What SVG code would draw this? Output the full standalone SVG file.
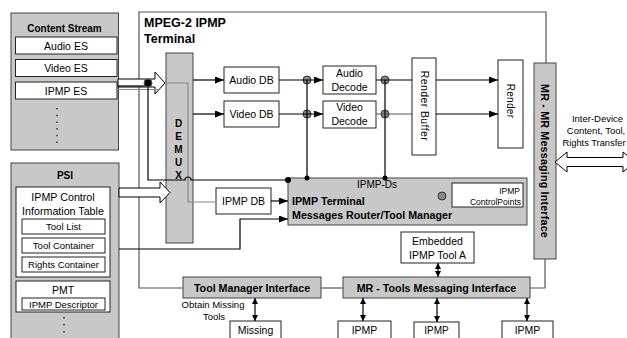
<svg xmlns="http://www.w3.org/2000/svg" width="627" height="338" viewBox="0 0 627 338">
<style>
text{font-family:"Liberation Sans",Arial,sans-serif;fill:#000}
.t{font-size:10.5px;text-anchor:middle}
.s{font-size:9.5px;text-anchor:middle}
.b{font-size:10.7px;font-weight:bold}
.bc{font-size:10.7px;font-weight:bold;text-anchor:middle}
.g{fill:#c8c8c8;stroke:#444;stroke-width:1}
.w{fill:#fff;stroke:#222;stroke-width:1}
.ln{fill:none;stroke:#000;stroke-width:1.2}
.gl{fill:none;stroke:#888;stroke-width:1.2}
.dl{fill:none;stroke:#555;stroke-width:1.2}
.j{fill:#888;stroke:#333;stroke-width:1}
</style>
<defs>
<marker id="ah" markerUnits="userSpaceOnUse" markerWidth="9" markerHeight="7" refX="9" refY="3.5" orient="auto-start-reverse"><path d="M0,0 L9,3.5 L0,7 z" fill="#000"/></marker>
<marker id="sh" markerUnits="userSpaceOnUse" markerWidth="6" markerHeight="6" refX="6" refY="3" orient="auto-start-reverse"><path d="M0,0 L6,3 L0,6 z" fill="#000"/></marker>
</defs>

<g id="terminal-outline">
<path class="dl" d="M183,288 H139 V12 H546 V63"/>
<text class="b" x="144" y="27" style="font-size:12.5px">MPEG-2 IPMP</text>
<text class="b" x="144" y="43" style="font-size:12.5px">Terminal</text>
</g>

<g id="content-stream">
<rect class="g" x="11" y="13" width="107.5" height="137"/>
<text class="bc" x="64.5" y="32" style="font-size:10px">Content Stream</text>
<rect class="w" x="15.5" y="37" width="101.5" height="17"/>
<text class="t" x="66" y="49.5">Audio ES</text>
<rect class="w" x="15.5" y="59.5" width="101.5" height="17"/>
<text class="t" x="66" y="72">Video ES</text>
<rect class="w" x="15.5" y="82" width="101.5" height="17"/>
<text class="t" x="66" y="94.5">IPMP ES</text>
<line x1="57" y1="108" x2="57" y2="145" stroke="#333" stroke-width="1.5" stroke-dasharray="1.5 5.2"/>
</g>

<g id="psi">
<rect class="g" x="11" y="163" width="108" height="185"/>
<text class="bc" x="65" y="179" style="font-size:10px">PSI</text>
<rect class="w" x="16" y="187" width="94" height="90"/>
<text class="t" x="63" y="201" style="font-size:10.7px">IPMP Control</text>
<text class="t" x="63" y="215" style="font-size:10.7px">Information Table</text>
<rect class="w" x="22" y="219" width="83" height="15"/>
<text class="s" x="63.5" y="230">Tool List</text>
<rect class="w" x="22" y="238" width="83" height="15"/>
<text class="s" x="63.5" y="249">Tool Container</text>
<rect class="w" x="22" y="257" width="83" height="15"/>
<text class="s" x="63.5" y="268">Rights Container</text>
<rect class="w" x="16" y="281" width="94" height="31"/>
<text class="t" x="63" y="294">PMT</text>
<rect class="w" x="22" y="298" width="83" height="12"/>
<text class="s" x="63.5" y="308">IPMP Descriptor</text>
<line x1="64" y1="317" x2="64" y2="336" stroke="#333" stroke-width="1.5" stroke-dasharray="1.5 5.5"/>
</g>

<g id="demux">
<rect class="g" x="166" y="53" width="27" height="190"/>
<text class="bc" x="178.5" y="127" style="font-size:10px">D</text>
<text class="bc" x="178.5" y="140" style="font-size:10px">E</text>
<text class="bc" x="178.5" y="153" style="font-size:10px">M</text>
<text class="bc" x="178.5" y="166" style="font-size:10px">U</text>
<text class="bc" x="178.5" y="179" style="font-size:10px">X</text>
</g>

<g id="audio-db"><rect class="w" x="224" y="67" width="55" height="26"/><text class="t" x="251.5" y="84">Audio DB</text></g>
<g id="video-db"><rect class="w" x="224" y="101" width="55" height="26"/><text class="t" x="251.5" y="118">Video DB</text></g>
<g id="audio-decode"><rect class="w" x="323" y="66" width="53" height="28"/><text class="t" x="349.5" y="77">Audio</text><text class="t" x="349.5" y="91">Decode</text></g>
<g id="video-decode"><rect class="w" x="323" y="101" width="53" height="27"/><text class="t" x="349.5" y="111">Video</text><text class="t" x="349.5" y="125">Decode</text></g>
<g id="render-buffer"><rect class="w" x="412" y="58" width="24" height="97"/><text class="t" transform="translate(424,106) rotate(90)" dy="3.5" style="letter-spacing:0.4px">Render Buffer</text></g>
<g id="render"><rect class="w" x="498" y="60" width="25" height="88"/><text class="t" transform="translate(510.5,101) rotate(90)" dy="3.5" style="font-size:10px;letter-spacing:0.3px">Render</text></g>
<g id="mr-mr"><rect class="g" x="534" y="63" width="22" height="196"/><text class="bc" transform="translate(545,161) rotate(90)" dy="3.8" style="letter-spacing:0.2px">MR - MR Messaging Interface</text></g>

<g id="ipmp-db"><rect class="w" x="216" y="188" width="55" height="26"/><text class="t" x="243.5" y="205">IPMP DB</text></g>

<g id="ipmp-terminal">
<rect class="g" x="288" y="178" width="239" height="47"/>
<text class="t" x="377" y="187.5" style="font-size:10px">IPMP-Ds</text>
<text class="b" x="292" y="205">IPMP Terminal</text>
<text class="b" x="292" y="219">Messages Router/Tool Manager</text>
<circle class="j" cx="442" cy="196" r="4"/>
</g>
<g id="control-points"><rect class="w" x="452" y="183" width="71" height="24"/>
<text x="520" y="194" style="font-size:8.5px;text-anchor:end">IPMP</text>
<text x="521" y="204.5" style="font-size:8.5px;text-anchor:end">ControlPoints</text></g>

<g id="embedded-tool"><rect class="w" x="401" y="232" width="73" height="31"/><text class="t" x="437.5" y="245">Embedded</text><text class="t" x="437.5" y="259">IPMP Tool A</text></g>

<g id="tool-manager-interface"><rect class="g" x="183" y="277" width="138" height="21"/><text class="bc" x="252" y="292">Tool Manager Interface</text></g>
<g id="mr-tools"><rect class="g" x="343" y="277" width="187" height="21"/><text class="bc" x="436.5" y="292">MR - Tools Messaging Interface</text></g>

<g id="missing"><rect class="w" x="230" y="321" width="51" height="25"/><text class="t" x="255.5" y="334">Missing</text></g>
<g id="ipmp-tool-1"><rect class="w" x="338" y="321" width="53" height="25"/><text class="t" x="364.5" y="334">IPMP</text></g>
<g id="ipmp-tool-2"><rect class="w" x="414" y="322" width="45" height="25"/><text class="t" x="436.5" y="334" style="font-size:10px">IPMP</text></g>
<g id="ipmp-tool-3"><rect class="w" x="502" y="321" width="51" height="25"/><text class="t" x="527.5" y="334">IPMP</text></g>

<g id="inter-device">
<text class="s" x="597.5" y="122">Inter-Device</text>
<text class="s" x="596" y="134">Content, Tool,</text>
<text class="s" x="594" y="146" style="font-size:9.3px">Rights Transfer</text>
</g>

<g id="connectors">
<polygon points="118,79 155,79 155,72 165,83 155,94 155,87 118,87" fill="#fff" stroke="#000" stroke-width="1"/>
<polygon points="119,188 160,188 160,182 170,192.5 160,203 160,197 119,197" fill="#fff" stroke="#000" stroke-width="1"/>
<polygon points="555,162 567,152 567,157.5 623,157.5 623,152 635,162 623,172 623,166.5 567,166.5 567,172" fill="#fff" stroke="#000" stroke-width="1"/>
<path class="gl" d="M118,89.5 H158"/>
<path class="gl" d="M166,83 H188 V202 H216"/>
<path class="ln" d="M118,86 H148"/>
<path class="ln" d="M148,83 V180 H185 a3,3 0 0 1 6,0 H288"/>
<circle cx="148" cy="83" r="4" fill="#000" stroke="#555" stroke-width="1"/>
<circle class="j" cx="307" cy="80" r="4"/>
<circle class="j" cx="307" cy="114" r="4"/>
<circle class="j" cx="385" cy="80" r="4"/>
<circle class="j" cx="385" cy="114" r="4"/>
<line class="ln" x1="193" y1="80" x2="224" y2="80" marker-end="url(#ah)"/>
<line class="ln" x1="193" y1="114" x2="224" y2="114" marker-end="url(#ah)"/>
<line class="ln" x1="279" y1="80" x2="323" y2="80" marker-end="url(#ah)"/>
<line class="ln" x1="279" y1="114" x2="323" y2="114" marker-end="url(#ah)"/>
<line class="ln" x1="376" y1="80" x2="412" y2="80"/>
<line class="dl" x1="376" y1="114" x2="412" y2="114"/>
<line class="ln" x1="436" y1="80" x2="498" y2="80" marker-end="url(#ah)"/>
<line class="ln" x1="436" y1="114" x2="498" y2="114" marker-end="url(#ah)"/>
<line class="ln" x1="307" y1="80" x2="307" y2="178"/>
<line class="ln" x1="385" y1="80" x2="385" y2="178"/>
<circle cx="307" cy="178" r="2.5" fill="#000"/>
<circle cx="385" cy="178" r="2.5" fill="#000"/>
<circle cx="288" cy="180" r="3" fill="#000"/>
<path class="ln" d="M119,249 H240 V219 H288" marker-end="url(#ah)"/>
<line class="ln" x1="271" y1="201" x2="288" y2="201" marker-end="url(#ah)"/>
<line class="dl" x1="321" y1="288" x2="343" y2="288"/>
<path class="dl" d="M545,259 V288 H530"/>
<line class="ln" x1="438" y1="263" x2="438" y2="277" marker-start="url(#sh)" marker-end="url(#sh)"/>
<line class="ln" x1="255" y1="298" x2="255" y2="321" marker-start="url(#sh)" marker-end="url(#sh)"/>
<line class="ln" x1="363" y1="298" x2="363" y2="321" marker-start="url(#sh)" marker-end="url(#sh)"/>
<line class="ln" x1="437" y1="298" x2="437" y2="322" marker-start="url(#sh)" marker-end="url(#sh)"/>
<line class="ln" x1="527" y1="298" x2="527" y2="321" marker-start="url(#sh)" marker-end="url(#sh)"/>
</g>

<g id="obtain-label">
<text class="s" x="213" y="308">Obtain Missing</text>
<text class="s" x="214" y="320">Tools</text>
</g>
</svg>
